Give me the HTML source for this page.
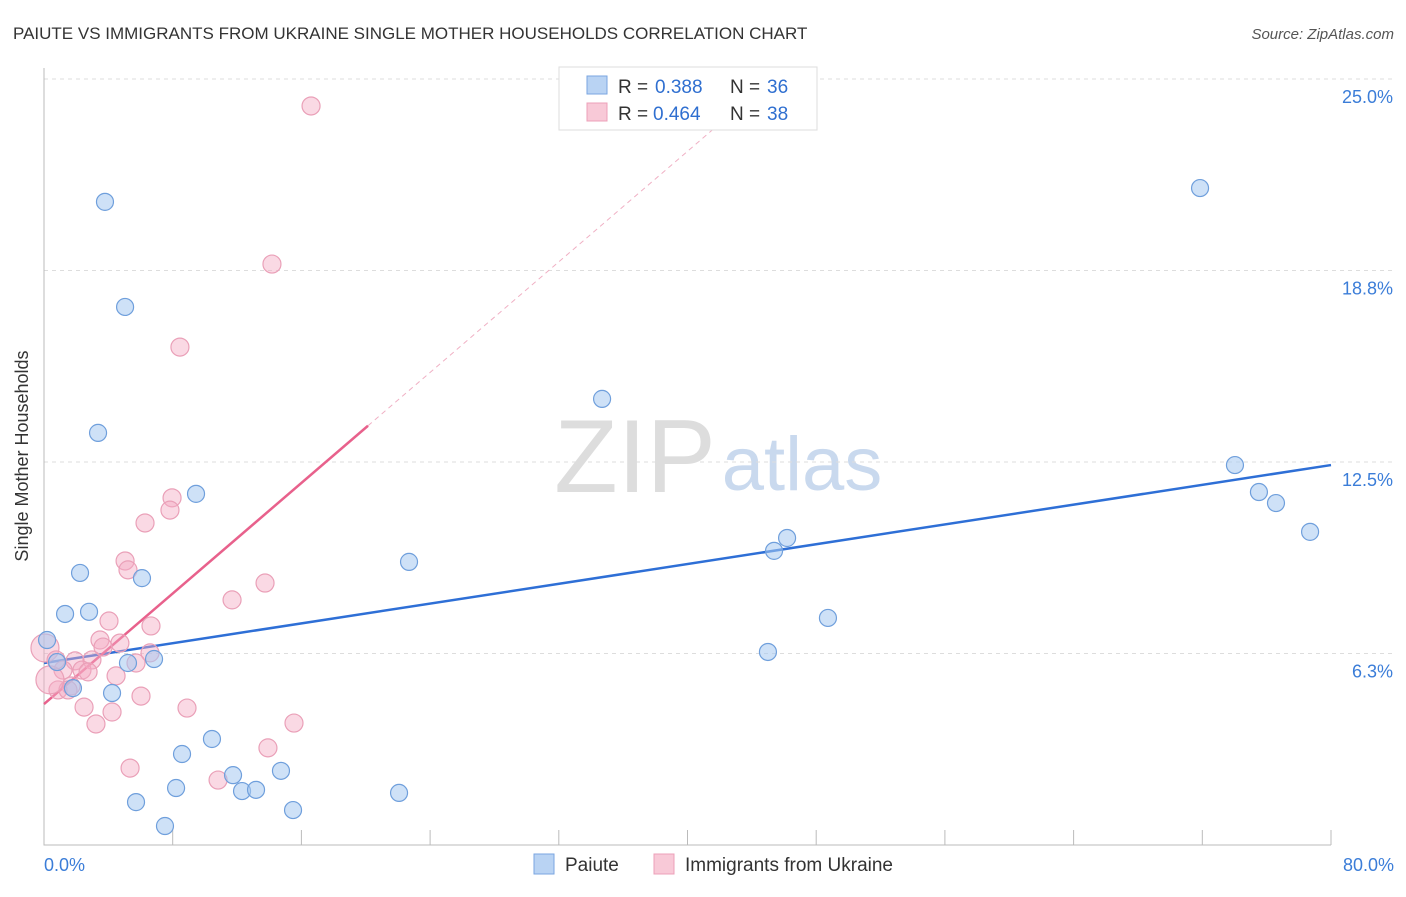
<!DOCTYPE html>
<html><head><meta charset="utf-8"><style>
body{margin:0;background:#fff;font-family:"Liberation Sans",sans-serif}
svg text{font-family:"Liberation Sans",sans-serif}
</style></head><body>
<svg id="c" width="1406" height="892" xmlns="http://www.w3.org/2000/svg">
<text x="13" y="39" font-size="17" fill="#333">PAIUTE VS IMMIGRANTS FROM UKRAINE SINGLE MOTHER HOUSEHOLDS CORRELATION CHART</text>
<text x="1394" y="39" font-size="15" fill="#555" font-style="italic" text-anchor="end">Source: ZipAtlas.com</text>
<text x="28" y="456" font-size="18" fill="#333" transform="rotate(-90 28 456)" text-anchor="middle">Single Mother Households</text>
<g><text x="635" y="492" font-size="104" fill="#ddd" font-family="Liberation Serif" text-anchor="middle">ZIP</text><text x="802" y="490" font-size="76" fill="#c9d9ee" text-anchor="middle">atlas</text></g>
<g id="grid"></g><g id="axes"></g><g id="lines"></g><g id="pts"></g>
<g>
<rect x="559" y="67" width="258" height="63" fill="#fff" stroke="#ddd"/>
<rect x="587" y="76" width="20" height="18" fill="#b9d3f3" stroke="#7aa6e0"/>
<text y="93" font-size="19" fill="#333"><tspan x="618">R =</tspan><tspan x="655" fill="#2f6fd0">0.388</tspan><tspan x="730">N =</tspan><tspan x="767" fill="#2f6fd0">36</tspan></text>
<rect x="587" y="103" width="20" height="18" fill="#f8c9d7" stroke="#eda0b8"/>
<text y="120" font-size="19" fill="#333"><tspan x="618">R =</tspan><tspan x="653" fill="#2f6fd0">0.464</tspan><tspan x="730">N =</tspan><tspan x="767" fill="#2f6fd0">38</tspan></text>
</g>
<g>
<rect x="534" y="854" width="20" height="20" fill="#b9d3f3" stroke="#7aa6e0"/>
<text x="565" y="871" font-size="19" fill="#333">Paiute</text>
<rect x="654" y="854" width="20" height="20" fill="#f8c9d7" stroke="#eda0b8"/>
<text x="685" y="871" font-size="19" fill="#333">Immigrants from Ukraine</text>
</g>
</svg>
<script>
const yTicks=[6.25,12.5,18.75,25];
const yTickLabels=["6.3%","12.5%","18.8%","25.0%"];
const xTicks=[0,8,16,24,32,40,48,56,64,72,80];
const blueX=[3.79,5.04,3.36,9.45,2.24,6.09,1.31,2.80,0.19,0.81,1.80,4.23,5.22,6.84,8.58,10.44,11.75,12.31,13.18,14.73,5.72,8.21,7.52,15.48,22.07,22.69,34.69,45.00,45.38,46.19,48.73,71.86,74.03,75.52,76.58,78.70];
const blueY=[20.99,17.56,13.45,11.46,8.88,8.71,7.54,7.61,6.69,5.97,5.12,4.96,5.94,6.07,2.97,3.46,2.28,1.76,1.80,2.42,1.40,1.86,0.62,1.14,1.70,9.24,14.56,6.30,9.60,10.02,7.41,21.44,12.40,11.52,11.16,10.22];
const pinkX=[16.60,14.17,8.45,7.96,7.83,6.28,5.04,5.22,13.74,11.69,4.04,6.65,3.48,4.72,3.67,2.98,1.93,6.59,5.72,2.36,2.74,1.18,4.48,1.68,0.87,1.49,6.03,2.49,8.89,4.23,3.23,15.54,5.35,13.92,10.82,0.06,0.37,0.75];
const pinkY=[24.12,18.96,16.25,11.33,10.93,10.51,9.27,8.98,8.55,8.00,7.31,7.15,6.69,6.59,6.46,6.04,6.01,6.27,5.94,5.71,5.65,5.71,5.52,5.19,5.06,5.06,4.86,4.50,4.47,4.34,3.95,3.98,2.51,3.17,2.12,6.43,5.39,6.04];
const pinkR=[9,9,9,9,9,9,9,9,9,9,9,9,9,9,9,9,9,9,9,9,9,9,9,9,9,9,9,9,9,9,9,9,9,9,9,14,14,9];
const blueLine=[5.94,12.40];
const pinkLine=[4.60,0.451];
const NS="http://www.w3.org/2000/svg";
const X=v=>44+v/80*1287, Y=v=>845-v/25*766;
function mk(p,t,a){const e=document.createElementNS(NS,t);for(const k in a)e.setAttribute(k,a[k]);document.getElementById(p).appendChild(e);return e;}
yTicks.forEach((t,i)=>{
 const g=mk('grid','line',{x1:44,x2:1394,y1:Y(t),y2:Y(t),stroke:'#ddd','stroke-dasharray':'4,4'});
 
 
 const l=mk('axes','text',{x:1393,y:Y(t)+24,'font-size':18,fill:'#3b7dd8','text-anchor':'end'});
 l.textContent=yTickLabels[i];
 
 
});
const ax=mk('axes','path',{d:'M44,68V845H1331',fill:'none',stroke:'#bbb'});


xTicks.forEach(t=>{const k=mk('axes','line',{x1:X(t),x2:X(t),y1:845,y2:830,stroke:'#bbb'});
 
 });
[[0,"0.0%",'start',44],[80,"80.0%",'end',1394]].forEach(a=>{const l=mk('axes','text',{x:a[3],y:871,'font-size':18,fill:'#3b7dd8','text-anchor':a[2]});l.textContent=a[1];
 
 });
const bl=mk('lines','line',{x1:X(0),y1:Y(blueLine[0]),x2:X(80),y2:Y(blueLine[1]),stroke:'#2e6fd6','stroke-width':2.5});


const pe=20.14, pd=43;
const ps=mk('lines','line',{x1:X(0),y1:Y(pinkLine[0]),x2:X(pe),y2:Y(pinkLine[0]+pinkLine[1]*pe),stroke:'#e8618c','stroke-width':2.5});


const pdl=mk('lines','line',{x1:X(pe),y1:Y(pinkLine[0]+pinkLine[1]*pe),x2:X(pd),y2:Y(pinkLine[0]+pinkLine[1]*pd),stroke:'#f0b0c4','stroke-width':1,'stroke-dasharray':'5,4'});


pinkX.forEach((v,i)=>{const c=mk('pts','circle',{cx:X(v),cy:Y(pinkY[i]),r:pinkR[i],fill:'rgba(245,170,195,0.45)',stroke:'#eaa0b8','stroke-width':1.2});
 
 });
blueX.forEach((v,i)=>{const c=mk('pts','circle',{cx:X(v),cy:Y(blueY[i]),r:8.5,fill:'rgba(165,200,240,0.55)',stroke:'#6f9fdc','stroke-width':1.2});
 
 });
</script>
</body></html>
